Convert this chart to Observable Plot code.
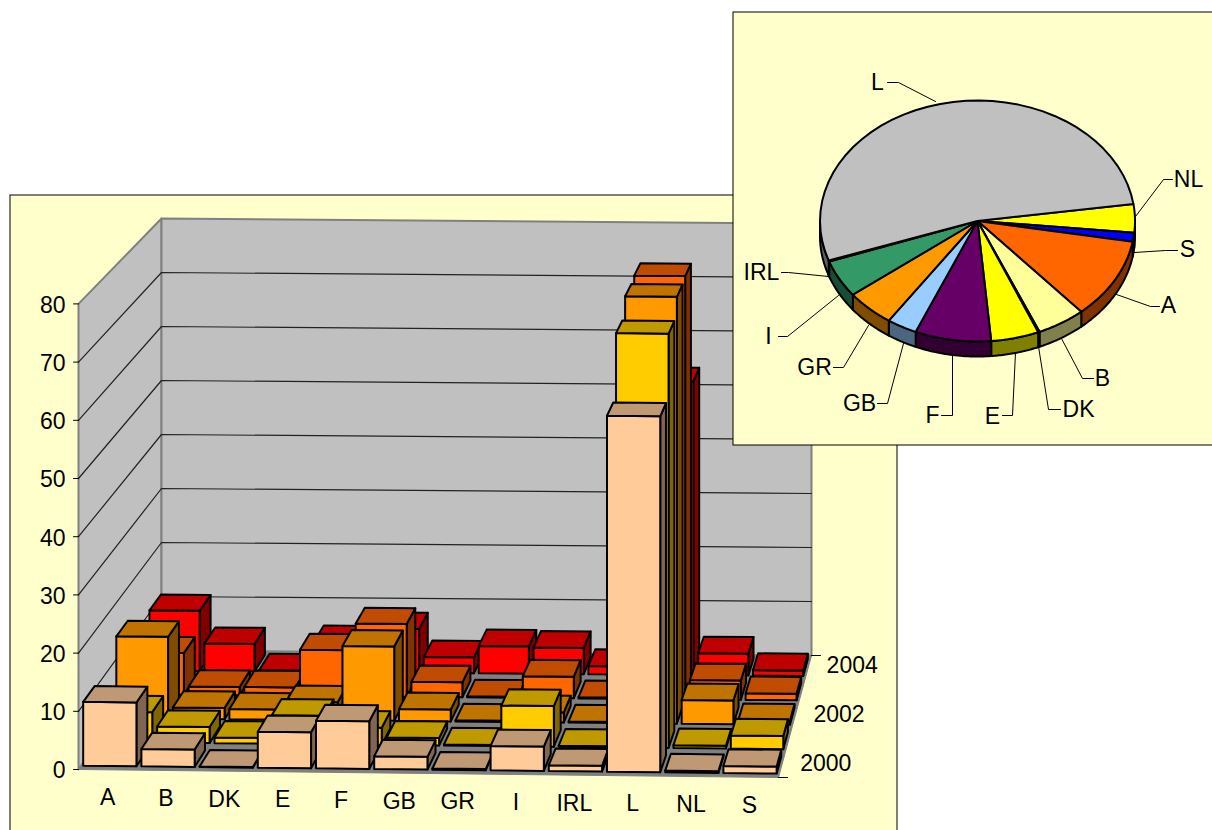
<!DOCTYPE html>
<html><head><meta charset="utf-8">
<script src="https://cdn.jsdelivr.net/npm/d3@7"></script>
<script src="https://cdn.jsdelivr.net/npm/@observablehq/plot@0.6"></script>
<style>html,body{margin:0;padding:0;background:#fff;overflow:hidden}svg{display:block}</style>
</head><body><div id="chart"></div>
<script>
// ---- data ----
const countries = ["A","B","DK","E","F","GB","GR","I","IRL","L","NL","S"];
const years = ["2000","2001","2002","2003","2004"];
const yearTickLabels = ["2000","2002","2004"];
const valueTicks = [0,10,20,30,40,50,60,70,80];
const v2000 = [11,3,0.1,6.2,8.2,2.2,0.2,4.2,1,61.3,0.3,1.2];
const v2001 = [5.3,2.8,1,5,3,1.3,0.2,7.1,0.2,72.4,0.5,2.3];
const v2002 = [14.5,2,1.8,3.2,13.2,2.1,0.2,1.8,0.2,75.7,4.2,0.7];
const v2003 = [7.5,1.5,1.5,8.3,13.1,2.7,0.2,3.9,0.2,76.2,3.5,1.2];
const v2004 = [11,5,0.2,5.5,8,2.9,5,4.8,1.5,53.7,4,1];
const pieOrder = ["NL","S","A","B","DK","E","F","GB","GR","I","IRL","L"];
const pieValues = [3.8,1.2,10.8,5,0.15,4.9,7.8,3.1,5,5,0.15,53];

// ---- colours ----
const rowFront = ["#FFCC99","#FFCC00","#FF9900","#FF6600","#FF0000"];
const rowTop   = ["#BF9973","#BF9900","#BF7300","#BF4C00","#BF0000"];
const rowSide  = ["#806650","#806600","#804C00","#803300","#800000"];
const pieTop  = ["#FFFF00","#0000FF","#FF6600","#FFFF99","#FFFFCC","#FFFF00","#660066","#99CCFF","#FF9900","#339966","#FFFFCC","#C0C0C0"];
const pieRim  = ["#808000","#000080","#803300","#80804D","#808066","#808000","#330033","#4D6680","#804C00","#1A4D33","#808066","#606060"];

// ---- oblique projection of the 3-D chart box ----
const nU = countries.length, nV = years.length;
const mix = (a,b,t)=>a+(b-a)*t;
function project(u,v,z){
  const tu=u/nU, tv=v/nV;
  const xf=mix(78,778,tu), xb=mix(161,811,tu);
  const yf=mix(769,777,tu), yb=mix(650,655,tu);
  return {x:mix(xf,xb,tv), y:mix(yf,yb,tv)-z*mix(5.82,5.4,tv)};
}
let pid=0;
function poly(list,pts,fill){const id=pid++;for(const [u,v,z] of pts){const p=project(u,v,z);list.push({id,x:p.x,y:p.y,fill});}}

const wallPts=[], gridPts=[], floorPts=[], barPts=[];
poly(wallPts,[[0,0,0],[0,nV,0],[0,nV,80],[0,0,80]],"#C0C0C0");
poly(wallPts,[[0,nV,0],[nU,nV,0],[nU,nV,80],[0,nV,80]],"#C0C0C0");
poly(floorPts,[[0,0,0],[nU,0,0],[nU,nV,0],[0,nV,0]],"#808080");
for(const t of valueTicks.slice(1,-1)){const id=pid++;for(const [u,v] of [[0,0],[0,nV],[nU,nV]]){const p=project(u,v,t);gridPts.push({id,...p});}}

const series=[v2000,v2001,v2002,v2003,v2004];
const uA=0.035,uB=0.95,vA=0.16,vB=0.85;
for(let r=nV-1;r>=0;r--){
  for(let c=0;c<nU;c++){
    const z=series[r][c], u0=c+uA,u1=c+uB,v0=r+vA,v1=r+vB;
    poly(barPts,[[u1,v0,0],[u1,v1,0],[u1,v1,z],[u1,v0,z]],rowSide[r]);
    poly(barPts,[[u0,v0,0],[u1,v0,0],[u1,v0,z],[u0,v0,z]],rowFront[r]);
    poly(barPts,[[u0,v0,z],[u1,v0,z],[u1,v1,z],[u0,v1,z]],rowTop[r]);
  }
}
const zTicks=valueTicks.map(t=>({t,...project(0,0,t)}));
const catLabels=countries.map((c,i)=>({c,...project(i+.5,0,0)}));
const yearLabels=yearTickLabels.map(l=>({l,...project(nU,years.indexOf(l)+.5,0)}));
const tickSegs=[];
valueTicks.forEach(t=>{const p=project(0,0,t);tickSegs.push({id:"z"+t,x:p.x-5,y:p.y},{id:"z"+t,x:p.x,y:p.y});});
[0,nV].forEach(v=>{const p=project(nU,v,0);tickSegs.push({id:"v"+v,x:p.x,y:p.y},{id:"v"+v,x:p.x+9,y:p.y});});

// ---- pie ----
const cx=977,cy=220.5,rx=157.5,ry=120.5,depth=15;
const total=d3.sum(pieValues);
const pieStart=-8.15;
const arcPt=(deg,off=0)=>({x:cx+rx*Math.cos(deg*Math.PI/180),y:cy+ry*Math.sin(deg*Math.PI/180)+off});
const rimPts=[],slicePts=[];
let acc=pieStart;
pieValues.forEach((val,i)=>{
  const a0=acc,a1=acc+val/total*360; acc=a1;
  const id=pid++;
  slicePts.push({id,x:cx,y:cy,fill:pieTop[i]});
  for(let k=0;k<=40;k++){slicePts.push({id,...arcPt(mix(a0,a1,k/40)),fill:pieTop[i]});}
  const r0=Math.max(a0,0),r1=Math.min(a1,180);
  if(r1>r0){
    const rid=pid++;
    for(let k=0;k<=30;k++)rimPts.push({id:rid,...arcPt(mix(r0,r1,k/30)),fill:pieRim[i]});
    for(let k=30;k>=0;k--)rimPts.push({id:rid,...arcPt(mix(r0,r1,k/30),depth),fill:pieRim[i]});
  }
});
// label placement for the pie
const pieLabelLayout=[
 {t:"L",x:877,y:82,pts:[[898,82],[887,82]],anchor:[935,101]},
 {t:"NL",x:1188,y:179,pts:[[1163,179],[1172,179]],anchor:[1135,216]},
 {t:"S",x:1187,y:249,pts:[[1165,250],[1177,250]],anchor:[1134,252]},
 {t:"A",x:1168,y:305,pts:[[1150,306],[1159,306]],anchor:[1116,294]},
 {t:"B",x:1102,y:378,pts:[[1082,378],[1093,378]],anchor:[1061,338]},
 {t:"DK",x:1078,y:409,pts:[[1048,409],[1060,409]],anchor:[1038,346]},
 {t:"E",x:992,y:416,pts:[[1012,415],[1002,415]],anchor:[1015,352]},
 {t:"F",x:932,y:415,pts:[[952,415],[941,415]],anchor:[952,355]},
 {t:"GB",x:859,y:403,pts:[[887,403],[877,403]],anchor:[903,343]},
 {t:"GR",x:814,y:367,pts:[[843,367],[833,367]],anchor:[868,325]},
 {t:"I",x:768,y:336,pts:[[787,336],[778,336]],anchor:[838,295]},
 {t:"IRL",x:761,y:272,pts:[[788,272],[781,272]],anchor:[828,276]}
];
const leaderPts=pieLabelLayout.flatMap(d=>[d.anchor,...d.pts].map(p=>({id:d.t,x:p[0],y:p[1]})));

const font={fontFamily:"'Liberation Sans',Arial,sans-serif",fontSize:23,fill:"#000"};
const shape=(data,o)=>Plot.line(data,{x:"x",y:"y",z:"id",curve:"linear-closed",...o});
const chart=Plot.plot({
  width:1212,height:830,margin:0,
  x:{domain:[0,1212],range:[0,1212],axis:null},
  y:{domain:[0,830],range:[0,830],axis:null},
  color:{type:"identity"},
  style:{background:"#fff",overflow:"hidden"},
  marks:[
    Plot.rect([{x1:10,x2:897,y1:195,y2:840}],{x1:"x1",x2:"x2",y1:"y1",y2:"y2",fill:"#FFFFCC",stroke:"#000",strokeWidth:1}),
    shape(wallPts,{fill:"fill",stroke:"#808080",strokeWidth:2}),
    Plot.line(gridPts,{x:"x",y:"y",z:"id",stroke:"#222",strokeWidth:1.2}),
    shape(floorPts,{fill:"fill",stroke:"#808080",strokeWidth:1}),
    Plot.line(tickSegs,{x:"x",y:"y",z:"id",stroke:"#000",strokeWidth:1}),
    shape(barPts,{fill:"fill",stroke:"#000",strokeWidth:2}),
    Plot.text(zTicks,{x:"x",y:"y",text:d=>String(d.t),dx:-13,dy:1.5,textAnchor:"end",lineAnchor:"middle",...font}),
    Plot.text(catLabels,{x:"x",y:"y",text:"c",dy:28,lineAnchor:"middle",...font}),
    Plot.text(yearLabels,{x:"x",y:"y",text:"l",dx:44,dy:-2,lineAnchor:"middle",...font}),
    Plot.rect([{x1:733,x2:1225,y1:12,y2:445}],{x1:"x1",x2:"x2",y1:"y1",y2:"y2",fill:"#FFFFCC",stroke:"#000",strokeWidth:1}),
    shape(rimPts,{fill:"fill",stroke:"#000",strokeWidth:2}),
    shape(slicePts,{fill:"fill",stroke:"#000",strokeWidth:2}),
    Plot.line(leaderPts,{x:"x",y:"y",z:"id",stroke:"#000",strokeWidth:1}),
    Plot.text(pieLabelLayout,{x:"x",y:"y",text:"t",lineAnchor:"middle",...font})
  ]
});
document.getElementById("chart").append(chart);
</script></body></html>
